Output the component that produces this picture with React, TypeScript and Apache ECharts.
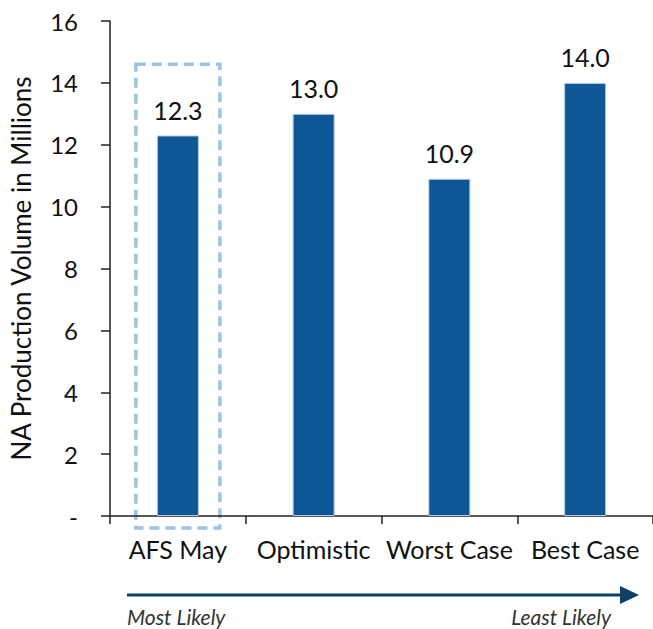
import React, { useEffect, useRef } from "react";
import * as echarts from "echarts";

const categories = ["AFS May", "Optimistic", "Worst Case", "Best Case"];
const values = [12.3, 13.0, 10.9, 14.0];
const yTicks = [0, 2, 4, 6, 8, 10, 12, 14, 16];
const yAxisTitle = "NA Production Volume in Millions";
const leftNote = "Most Likely";
const rightNote = "Least Likely";
const highlightTop = 14.6;

export default function App() {
  const ref = useRef<HTMLDivElement>(null);
  useEffect(() => {
    if (!ref.current) return;
    const chart = echarts.init(ref.current, null, { renderer: "svg" });
    const font = "Lato, 'Noto Sans', sans-serif";
    chart.setOption({
      animation: false,
      grid: { left: 110, top: 21, bottom: 113, width: 548, containLabel: false },
      xAxis: {
        type: "category",
        data: categories,
        axisLine: { lineStyle: { color: "#222", width: 1.5 } },
        axisTick: { show: true, length: 8, lineStyle: { color: "#222", width: 1.5 } },
        axisLabel: { color: "#111", fontSize: 25, fontFamily: font, margin: 20, interval: 0 },
      },
      yAxis: {
        type: "value",
        min: yTicks[0],
        max: yTicks[yTicks.length - 1],
        interval: 2,
        name: yAxisTitle,
        nameLocation: "middle",
        nameGap: 76,
        nameTextStyle: { color: "#111", fontSize: 26, fontFamily: font },
        splitLine: { show: false },
        axisLine: { show: true, lineStyle: { color: "#222", width: 1.5 } },
        axisTick: { show: true, length: 9, lineStyle: { color: "#222", width: 1.5 } },
        axisLabel: {
          color: "#111",
          fontSize: 24,
          fontFamily: font,
          margin: 32,
          formatter: (v: number) => (v === 0 ? "-" : String(v)),
        },
      },
      series: [
        {
          type: "bar",
          data: values,
          barWidth: 42,
          itemStyle: { color: "#0D5796", borderColor: "#b7c9e6", borderWidth: 1 },
          label: {
            show: true,
            position: "top",
            distance: 13,
            color: "#111",
            fontSize: 25,
            fontFamily: font,
            formatter: (p: any) => Number(p.value).toFixed(1),
          },
        },
      ],
    });
    const pTop = chart.convertToPixel({ gridIndex: 0 }, [categories[0], highlightTop]) as number[];
    const pBot = chart.convertToPixel({ gridIndex: 0 }, [categories[0], 0]) as number[];
    const halfW = 42;
    chart.setOption({
      graphic: [
        {
          type: "rect",
          shape: { x: pTop[0] - halfW, y: pTop[1], width: halfW * 2, height: pBot[1] + 12 - pTop[1] },
          style: { fill: "none", stroke: "#9DC3E6", lineWidth: 3.5, lineDash: [10, 6] },
          silent: true,
        },
        {
          type: "line",
          shape: { x1: 127, y1: 595, x2: 622, y2: 595 },
          style: { stroke: "#0E3F66", lineWidth: 3 },
        },
        {
          type: "polygon",
          shape: { points: [[620, 586], [639, 595], [620, 604]] },
          style: { fill: "#0E3F66" },
        },
        {
          type: "text",
          x: 127,
          y: 616,
          style: {
            text: leftNote,
            fontSize: 21,
            fontStyle: "italic",
            fontFamily: font,
            fill: "#333",
            verticalAlign: "middle",
            align: "left",
          },
        },
        {
          type: "text",
          x: 611,
          y: 616,
          style: {
            text: rightNote,
            fontSize: 21,
            fontStyle: "italic",
            fontFamily: font,
            fill: "#333",
            verticalAlign: "middle",
            align: "right",
          },
        },
      ],
    });
    return () => chart.dispose();
  }, []);
  return (
    <div
      ref={ref}
      style={{ position: "absolute", left: 0, top: 0, width: 653, height: 629 }}
    />
  );
}
